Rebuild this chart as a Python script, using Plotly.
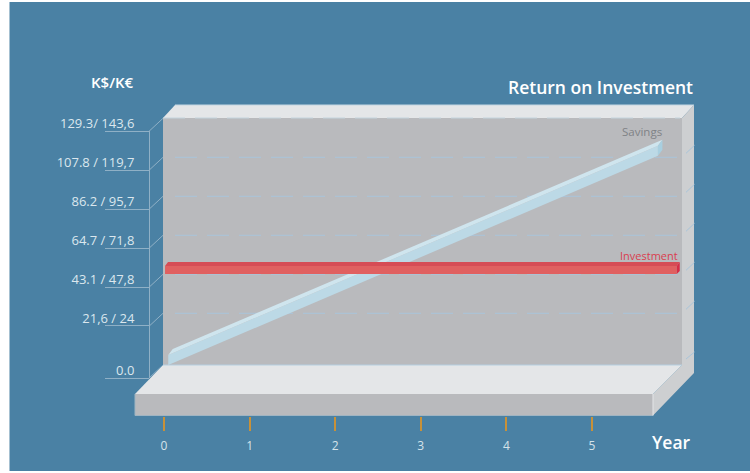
import plotly.graph_objects as go

# ---- data ----
years = [0, 1, 2, 3, 4, 5]
value_ticks = [21.6, 43.1, 64.7, 86.2, 107.8, 129.3]
value_labels = ["21,6 / 24", "43.1 / 47,8", "64.7 / 71,8", "86.2 / 95,7", "107.8 / 119,7", "129.3/ 143,6"]
zero_label = "0.0"
savings_years = [0.05, 5.77]
savings_values = [0.0, 115.8]
investment_years = [0.012, 5.99]
investment_values = [50.4, 50.4]

# ---- page geometry ----
W, H = 750, 473
X0, PX_PER_YEAR = 164, 85.6
Y0, PX_PER_UNIT = 365, 1.806
PLOT_L, PLOT_R, PLOT_B, PLOT_T = 135, 694, 378, 131

def vx(dpx):
    return dpx / PX_PER_YEAR

def vy(dpx):
    return dpx / PX_PER_UNIT

def page_y(v):
    return Y0 - v * PX_PER_UNIT

def pt(x, y):
    return x / W, 1 - y / H

def poly(points, fill):
    s = ""
    for i, (x, y) in enumerate(points):
        a, b = pt(x, y)
        s += ("M" if i == 0 else "L") + f"{a:.5f},{b:.5f} "
    return dict(type="path", path=s + "Z", xref="paper", yref="paper",
                fillcolor=fill, line=dict(width=0), layer="below")

def seg(x1, y1, x2, y2, color, width=1, dash=None):
    a, b = pt(x1, y1)
    c, d = pt(x2, y2)
    line = dict(color=color, width=width)
    if dash:
        line["dash"] = dash
    return dict(type="line", x0=a, y0=b, x1=c, y1=d, xref="paper", yref="paper",
                line=line, layer="below")

PANEL = "#4a81a4"
WALL = "#b9babd"
LIGHT = "#e4e6e8"
SIDE = "#cdcfd1"
AXIS = "#8fb0c6"
GRID = "#a9c5da"

shapes = [
    poly([(9.5, 2), (750, 2), (750, 471), (9.5, 471)], PANEL),
    poly([(163, 118), (682, 118), (682, 365), (163, 365)], WALL),
    poly([(163, 118), (175, 105), (694, 105), (682, 118)], LIGHT),
    poly([(653, 394), (682, 365), (682, 118), (694, 105), (694, 373), (653, 415.5)], SIDE),
    poly([(163, 365), (682, 365), (653, 394), (135, 394)], LIGHT),
    poly([(135, 394), (653, 394), (653, 415.5), (135, 415.5)], WALL),
    seg(135, 415.5, 653, 415.5, "#9fb4c2"),
    seg(135, 394, 135, 415.5, "#9fb4c2"),
    seg(175, 105, 694, 105, "#c4d6e2"),
    seg(163, 365, 682, 365, "#b5cfe0"),
    seg(653, 394, 653, 415.5, "#e4e6e8"),
    seg(163, 118, 680, 118, "#c4d4de", 1, "22px,10px"),
]
for v in value_ticks:
    y = round(page_y(v)) + 0.3
    shapes.append(seg(149, y, 163, y - 13, AXIS))
    if v < value_ticks[-1]:
        shapes.append(seg(175, y - 13, 680, y - 13, GRID, 1, "22px,10px"))
    if v < value_ticks[-1]:
        shapes.append(seg(686, y - 17, 694.5, y - 25, GRID))
shapes.append(seg(149, 378, 163, 365, AXIS))
shapes.append(seg(686, 359, 694.5, 352, GRID))


def band(xs, ys, height, dx0=0.0, dy0=0.0, dx1=0.0, dy1=0.0):
    """Closed polygon around a data segment: offsets are in pixels."""
    px = [xs[0] + vx(dx0), xs[1] + vx(dx1), xs[1] + vx(dx1 + height[0]), xs[0] + vx(dx0 + height[0])]
    py = [ys[0] + vy(dy0), ys[1] + vy(dy1), ys[1] + vy(dy1 + height[1]), ys[0] + vy(dy0 + height[1])]
    return px + px[:1], py + py[:1]


def face(xs, ys, fill):
    return go.Scatter(x=xs, y=ys, mode="lines", fill="toself", fillcolor=fill,
                      line=dict(width=0), hoverinfo="skip", showlegend=False)


traces = []
# Savings: front face, top face, end cap
fx, fy = band(savings_years, savings_values, (0, 10))
traces.append(face(fx, fy, "#bcd9e6"))
fx, fy = band(savings_years, savings_values, (4.5, 6), dy0=10, dy1=10)
traces.append(face(fx, fy, "#cfe5ee"))
ex = [savings_years[1], savings_years[1] + vx(4.5), savings_years[1] + vx(4.5), savings_years[1]]
top = savings_values[1]
ey = [top, top + vy(6), top + vy(16), top + vy(10)]
traces.append(face(ex + ex[:1], ey + ey[:1], "#a8cfe0"))
# Investment: front face, top face, end cap
fx, fy = band(investment_years, investment_values, (0, 8))
traces.append(face(fx, fy, "#e06060"))
fx, fy = band(investment_years, investment_values, (3, 4), dy0=8, dy1=8)
traces.append(face(fx, fy, "#d64c55"))
ex = [investment_years[1], investment_years[1] + vx(3), investment_years[1] + vx(3), investment_years[1]]
top = investment_values[1]
ey = [top, top + vy(3), top + vy(12), top + vy(8)]
traces.append(face(ex + ex[:1], ey + ey[:1], "#d62d45"))

fig = go.Figure(traces)

FONT = "Open Sans"
annotations = [
    dict(text="Return on Investment", x=693.5 / W, y=1 - 87 / H, xanchor="right", yanchor="middle",
         font=dict(family=FONT, size=17.5, color="#ffffff", weight=600)),
    dict(text="K$/K€", x=135 / W, y=1 - 82 / H, xanchor="right", yanchor="middle",
         font=dict(family=FONT, size=15, color="#ffffff", weight=600)),
    dict(text="Year", x=692 / W, y=1 - 442 / H, xanchor="right", yanchor="middle",
         font=dict(family=FONT, size=17.5, color="#ffffff", weight=600)),
    dict(text="Savings", x=663 / W, y=1 - 131.5 / H, xanchor="right", yanchor="middle",
         font=dict(family=FONT, size=11.5, color="#7f8286")),
    dict(text="Investment", x=678.5 / W, y=1 - 255 / H, xanchor="right", yanchor="middle",
         font=dict(family=FONT, size=11, color="#d9404f")),
]
for a in annotations:
    a.update(xref="paper", yref="paper", showarrow=False, xshift=0, yshift=0,
             borderpad=0)

zero_tick = (Y0 - PLOT_B) / PX_PER_UNIT

fig.update_layout(
    width=W, height=H, margin=dict(l=0, r=0, t=0, b=0, autoexpand=False), autosize=False,
    paper_bgcolor="#ffffff", plot_bgcolor="rgba(0,0,0,0)", showlegend=False,
    shapes=shapes, annotations=annotations, font=dict(family=FONT),
    xaxis=dict(
        domain=[PLOT_L / W, PLOT_R / W],
        range=[(PLOT_L - X0) / PX_PER_YEAR, (PLOT_R - X0) / PX_PER_YEAR],
        anchor="free", position=1 - 416 / H, automargin=False,
        tickvals=years, ticktext=[str(y) for y in years], ticks="outside", ticklen=14,
        tickcolor="#c89138", tickwidth=1.5, showgrid=False, zeroline=False, showline=False,
        ticklabelstandoff=5,
        tickfont=dict(family=FONT, size=12, color="#d5e3ea"),
    ),
    yaxis=dict(
        domain=[1 - PLOT_B / H, 1 - PLOT_T / H],
        range=[zero_tick, (Y0 - PLOT_T) / PX_PER_UNIT],
        anchor="free", position=149 / W, automargin=False,
        tickvals=[zero_tick] + value_ticks, ticktext=[zero_label] + value_labels,
        ticks="outside", ticklen=44, tickcolor=AXIS, tickwidth=1,
        showline=True, linecolor=AXIS, linewidth=1, showgrid=False, zeroline=False,
        ticklabelstandoff=-32, ticklabelshift=-8,
        tickfont=dict(family=FONT, size=13, color="#dbe7ee"),
    ),
)
fig.write_html(
    "out.html",
    config=dict(displayModeBar=False, responsive=False),
    default_width=f"{W}px",
    default_height=f"{H}px",
    post_script="document.body.style.margin='0';document.body.style.overflow='hidden';",
)
